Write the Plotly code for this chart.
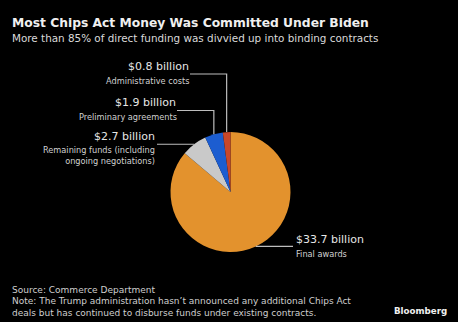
import math
import plotly.graph_objects as go

W, H = 458, 322

categories = ["Final awards", "Remaining funds (including<br>ongoing negotiations)",
              "Preliminary agreements", "Administrative costs"]
values = [33.7, 2.7, 1.9, 0.8]
value_labels = ["$33.7 billion", "$2.7 billion", "$1.9 billion", "$0.8 billion"]
colors = ["#E3922D", "#C9C9C9", "#1C5DD0", "#C9472A"]

title = "Most Chips Act Money Was Committed Under Biden"
subtitle = "More than 85% of direct funding was divvied up into binding contracts"
source = "Source: Commerce Department"
note = ("Note: The Trump administration hasn\u2019t announced any additional Chips Act<br>"
        "deals but has continued to disburse funds under existing contracts.")

FONT = "DejaVu Sans, Verdana, sans-serif"

# pie geometry (pixels)
cx, cy, r = 230.5, 192.0, 60.0

def px(x):
    return x / W

def py(y):
    return 1 - y / H

fig = go.Figure(go.Pie(
    labels=categories, values=values, sort=False, direction="clockwise",
    rotation=0, textinfo="none", hoverinfo="label+value",
    marker=dict(colors=colors, line=dict(width=0)),
    domain=dict(x=[px(cx - r), px(cx + r)], y=[py(cy + r), py(cy - r)]),
    showlegend=False,
))

total = sum(values)
cum = 0.0
anchors = []
for v in values:
    mid = (cum + v / 2) / total * 2 * math.pi
    anchors.append((cx + r * math.sin(mid), cy - r * math.cos(mid)))
    cum += v

line_col = "#BDBDBD"
shapes = []
annotations = []

VAL = dict(size=11, color="#E6E6E6")
SUB = dict(size=8.2, color="#D0D0D0")

def path(points):
    d = "M " + " L ".join(f"{px(x)},{py(y)}" for x, y in points)
    return dict(type="path", xref="paper", yref="paper", path=d,
                line=dict(color=line_col, width=1.2))

# Final awards (right side)
ax, ay = anchors[0]
shapes.append(path([(ax, ay), (293, ay)]))
annotations.append(dict(x=px(294), y=py(ay - 7), text=value_labels[0], xanchor="left",
                        yanchor="middle", font=VAL))
annotations.append(dict(x=px(294), y=py(ay + 7.5), text=categories[0], xanchor="left",
                        yanchor="middle", font=SUB))

# Remaining funds
ax, ay = anchors[1]
shapes.append(path([(ax, ay), (157, ay)]))
annotations.append(dict(x=px(157), y=py(136.5), text=value_labels[1], xanchor="right",
                        yanchor="middle", font=VAL))
annotations.append(dict(x=px(157), y=py(155.5), text=categories[1], xanchor="right",
                        yanchor="middle", align="right", font=SUB))

# Preliminary agreements
ax, ay = anchors[2]
shapes.append(path([(ax, ay), (ax, 110.5), (177, 110.5)]))
annotations.append(dict(x=px(178), y=py(102.5), text=value_labels[2], xanchor="right",
                        yanchor="middle", font=VAL))
annotations.append(dict(x=px(179), y=py(116.5), text=categories[2], xanchor="right",
                        yanchor="middle", font=SUB))

# Administrative costs
ax, ay = anchors[3]
shapes.append(path([(ax, ay), (ax, 74), (190, 74)]))
annotations.append(dict(x=px(191), y=py(66.5), text=value_labels[3], xanchor="right",
                        yanchor="middle", font=VAL))
annotations.append(dict(x=px(191), y=py(80.5), text=categories[3], xanchor="right",
                        yanchor="middle", font=SUB))

# titles and footer
annotations.append(dict(x=px(10), y=py(23.5), text=f"<b>{title}</b>", xanchor="left",
                        yanchor="middle", font=dict(size=12.3, color="#F0F0F0")))
annotations.append(dict(x=px(10), y=py(38.5), text=subtitle, xanchor="left",
                        yanchor="middle", font=dict(size=10.4, color="#DADADA")))
annotations.append(dict(x=px(10), y=py(289.5), text=source, xanchor="left",
                        yanchor="middle", font=dict(size=9, color="#CFCFCF")))
annotations.append(dict(x=px(10), y=py(306.5), text=note, xanchor="left", align="left",
                        yanchor="middle", font=dict(size=9, color="#CFCFCF")))
annotations.append(dict(x=px(449), y=py(310.5), text="<b>Bloomberg</b>", xanchor="right",
                        yanchor="middle", font=dict(size=8.7, color="#F0F0F0")))

for a in annotations:
    a.update(xref="paper", yref="paper", showarrow=False)

fig.update_layout(
    width=W, height=H, margin=dict(l=0, r=0, t=0, b=0),
    paper_bgcolor="#000000", plot_bgcolor="#000000",
    font=dict(family=FONT),
    shapes=shapes, annotations=annotations,
)

fig.write_html("out.html")
